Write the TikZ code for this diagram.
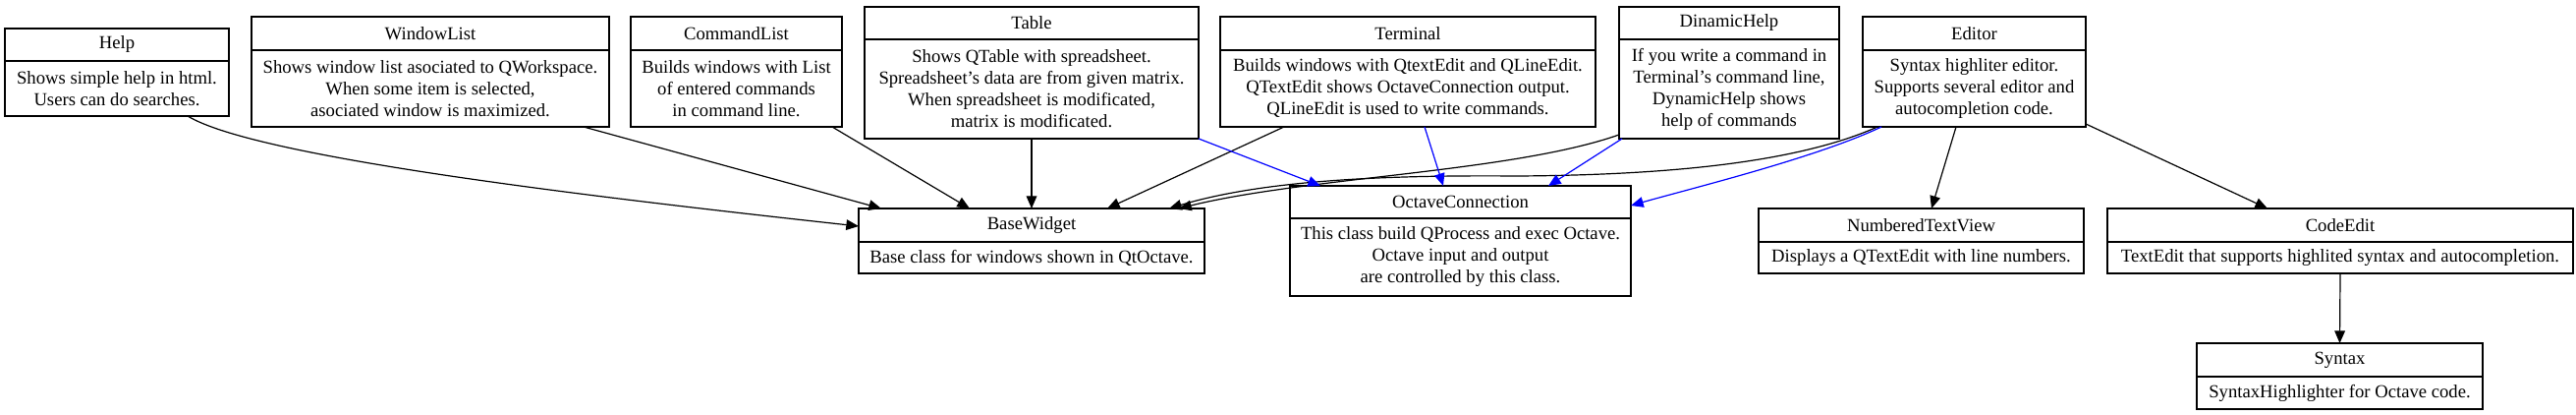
\documentclass[tikz,border=0pt]{standalone}
\usepackage{fontspec}
\setmainfont{Liberation Serif}
\usetikzlibrary{arrows.meta,calc}
\tikzset{
  boxframe/.style={draw=black, line width=1.1pt, inner sep=0pt, outer sep=0pt, fill=none},
  boxline/.style={draw=black, line width=1.1pt},
  titletext/.style={font=\fontsize{14}{16.5}\selectfont, inner sep=0pt, align=center},
  desctext/.style={font=\fontsize{14}{16.5}\selectfont, inner sep=0pt, align=center},
  edge/.style={draw=black, line width=0.9pt, -{Triangle[length=9.5pt,width=8pt]}},
  bedge/.style={draw=blue, line width=0.9pt, -{Triangle[length=9.5pt,width=8pt]}}
}
% name, x1, x2, y1, ydiv, y2, title, desc
\newcommand{\umlbox}[8]{%
  \node[boxframe, minimum width={(#3-#2)*0.75pt}, minimum height={(#6-#4)*0.75pt}] (#1) at ({(#2+#3)/2},{(#4+#6)/2}) {};
  \draw[boxline] (#2,#5) -- (#3,#5);
  \node[titletext] (#1-t) at ({(#2+#3)/2},{(#4+#5)/2}) {#7};
  \node[desctext] (#1-d) at ({(#2+#3)/2},{(#5+#6)/2}) {#8};
}
\begin{document}
\begin{tikzpicture}[x=0.75pt,y=-0.75pt]
\useasboundingbox (0,0) rectangle (2622,421);

\umlbox{help}{5}{233}{29}{62}{118}{Help}{Shows simple help in html.\\Users can do searches.}
\umlbox{windowlist}{256}{620}{17}{51}{129}{WindowList}{Shows window list asociated to QWorkspace.\\When some item is selected,\\asociated window is maximized.}
\umlbox{commandlist}{642}{857}{17}{51}{129}{CommandList}{Builds windows with List\\of entered commands\\in command line.}
\umlbox{table}{880}{1220}{7}{40}{141}{Table}{Shows QTable with spreadsheet.\\Spreadsheet's data are from given matrix.\\When spreadsheet is modificated,\\matrix is modificated.}
\umlbox{terminal}{1242}{1624}{17}{51}{129}{Terminal}{Builds windows with QtextEdit and QLineEdit.\\QTextEdit shows OctaveConnection output.\\QLineEdit is used to write commands.}
\umlbox{dinamichelp}{1648}{1872}{7}{40}{141}{DinamicHelp}{If you write a command in\\Terminal's command line,\\DynamicHelp shows\\help of commands}
\umlbox{editor}{1896}{2123}{17}{51}{129}{Editor}{Syntax highliter editor.\\Supports several editor and\\autocompletion code.}
\umlbox{basewidget}{874}{1226}{212}{246}{278}{BaseWidget}{Base class for windows shown in QtOctave.}
\umlbox{octave}{1313}{1660}{189}{222}{301}{OctaveConnection}{This class build QProcess and exec Octave.\\Octave input and output\\are controlled by this class.}
\umlbox{ntv}{1790}{2121}{212}{246}{278}{NumberedTextView}{Displays a QTextEdit with line numbers.}
\umlbox{codeedit}{2145}{2619}{212}{246}{278}{CodeEdit}{TextEdit that supports highlited syntax and autocompletion.}
\umlbox{syntax}{2236}{2527}{349}{383}{416}{Syntax}{SyntaxHighlighter for Octave code.}

% black edges to BaseWidget
\draw[edge] ($(help.south)+(72,0)$) .. controls +(69,42) and +(-274,-30) .. ($(basewidget.west)+(0,-15)$);
\draw[edge] ($(windowlist.south)+(156,0)$) -- ($(basewidget.north west)+(23,0)$);
\draw[edge] ($(commandlist.south)+(97.5,0)$) -- ($(basewidget.north west)+(113,0)$);
\draw[edge] (table.south) -- (basewidget.north);
\draw[edge] ($(terminal.south)+(-126,0)$) -- ($(basewidget.north)+(77,0)$);
\draw[edge] ($(dinamichelp.south west)+(0,-4)$) .. controls +(-108,38) and +(130,-32) .. ($(basewidget.north east)+(-26,0)$);
\draw[edge] ($(editor.south west)+(15,0)$) .. controls +(-81,36) and +(156,-1) .. (1544,179) coordinate (edmid)
  .. controls +(-124,-1) and +(100,-30) .. ($(basewidget.north east)+(-36,0)$);

% blue edges to OctaveConnection
\draw[bedge] (table.south east) -- ($(octave.north west)+(31,0)$);
\draw[bedge] ($(terminal.south)+(17,0)$) -- ($(octave.north)+(-17.5,0)$);
\draw[bedge] ($(dinamichelp.south west)+(3,0)$) -- ($(octave.north)+(89.5,0)$);
\draw[bedge] ($(editor.south west)+(19,0)$) .. controls +(-65,31) and +(60,-17) .. ($(octave.east)+(0,-36)$);

% Editor children
\draw[edge] ($(editor.south)+(-18.5,0)$) -- ($(ntv.north)+(10.5,0)$);
\draw[edge] ($(editor.south east)+(0,-3)$) -- ($(codeedit.north)+(-74,0)$);
\draw[edge] (codeedit.south) -- (syntax.north);
\end{tikzpicture}
\end{document}
